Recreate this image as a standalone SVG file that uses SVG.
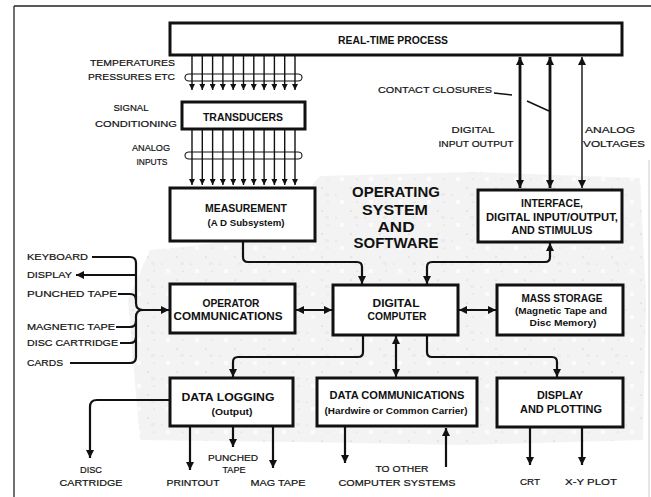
<svg xmlns="http://www.w3.org/2000/svg" width="651" height="497" viewBox="0 0 651 497">
<style>
.bx{fill:#fff;stroke:#111;stroke-width:3}
.b{font-family:"Liberation Sans",Arial,sans-serif;font-weight:bold;font-size:10px;text-anchor:middle;fill:#111}
.s{font-size:9px}
.big{font-size:14px}
.l{font-family:"Liberation Sans",Arial,sans-serif;font-size:9.5px;fill:#111;stroke:#111;stroke-width:0.2}
.m{text-anchor:middle}
.e{text-anchor:end}
.c{fill:none;stroke:#111;stroke-width:2.2}
.t{fill:none;stroke:#111;stroke-width:1.4}
.k{fill:none;stroke:#111;stroke-width:2.8}
</style>
<defs>
<marker id="a" viewBox="0 0 10 10" refX="10" refY="5" markerWidth="8" markerHeight="8" markerUnits="userSpaceOnUse" orient="auto-start-reverse"><path d="M0,0 L10,5 L0,10 z" fill="#111"/></marker>
<marker id="sm" viewBox="0 0 10 10" refX="10" refY="5" markerWidth="7" markerHeight="6" markerUnits="userSpaceOnUse" orient="auto"><path d="M0,0 L10,5 L0,10 z" fill="#111"/></marker>
<pattern id="sp" width="29" height="23" patternUnits="userSpaceOnUse">
<rect width="29" height="23" fill="#f3f3f3"/>
<circle cx="3" cy="4" r="0.6" fill="#b5b5b5"/><circle cx="17" cy="11" r="0.5" fill="#c4c4c4"/><circle cx="9" cy="18" r="0.6" fill="#cdcdcd"/><rect x="21" y="16" width="4" height="4" fill="#fbfbfb"/><rect x="6" y="9" width="4" height="3" fill="#ebebeb"/>
</pattern>
</defs>
<rect width="651" height="497" fill="#fff"/>
<path d="M150,250 C200,245 260,248 320,176 L475,172 L640,178 L646,300 L643,440 L460,445 L300,442 L140,440 L128,300 Z" fill="url(#sp)"/>
<g id="frame" fill="none">
<path d="M14,6 H651" stroke="#222" stroke-width="1.6"/>
<path d="M14,6 V497" stroke="#333" stroke-width="1.4"/>
<path d="M649,160 V497" stroke="#ccc" stroke-width="1"/>
</g>
<g id="connectors">
<g id="bundle1" class="t">
<path d="M192,56 V90" marker-end="url(#sm)"/><path d="M202.3,56 V90" marker-end="url(#sm)"/><path d="M212.6,56 V90" marker-end="url(#sm)"/><path d="M222.9,56 V90" marker-end="url(#sm)"/><path d="M233.2,56 V90" marker-end="url(#sm)"/><path d="M243.5,56 V90" marker-end="url(#sm)"/><path d="M253.8,56 V90" marker-end="url(#sm)"/><path d="M264.1,56 V90" marker-end="url(#sm)"/><path d="M274.4,56 V90" marker-end="url(#sm)"/><path d="M284.7,56 V90" marker-end="url(#sm)"/><path d="M295,56 V90" marker-end="url(#sm)"/>
<rect x="185" y="74" width="117" height="7" rx="4" ry="3.5" stroke-width="1.1"/>
</g>
<g id="bundle2" class="t">
<path d="M192,130 V185" marker-end="url(#sm)"/><path d="M202.3,130 V185" marker-end="url(#sm)"/><path d="M212.6,130 V185" marker-end="url(#sm)"/><path d="M222.9,130 V185" marker-end="url(#sm)"/><path d="M233.2,130 V185" marker-end="url(#sm)"/><path d="M243.5,130 V185" marker-end="url(#sm)"/><path d="M253.8,130 V185" marker-end="url(#sm)"/><path d="M264.1,130 V185" marker-end="url(#sm)"/><path d="M274.4,130 V185" marker-end="url(#sm)"/><path d="M284.7,130 V185" marker-end="url(#sm)"/><path d="M295,130 V185" marker-end="url(#sm)"/>
<rect x="185" y="152" width="117" height="7" rx="4" ry="3.5" stroke-width="1.1"/>
</g>
<path class="k" d="M520,57 V188" marker-start="url(#a)" marker-end="url(#a)"/>
<path class="k" d="M550,57 V188" marker-start="url(#a)" marker-end="url(#a)"/>
<path class="t" d="M582,57 V188" stroke-width="1.6" marker-start="url(#a)" marker-end="url(#a)"/>
<path class="t" d="M494,93 L512,95 M527,101 L549,111" stroke-width="1.5"/>
<path class="c" d="M243,241 V257 Q243,262 248,262 H357 Q362,262 362,267 V284" marker-end="url(#a)"/>
<path class="c" d="M550,243 V257 Q550,262 545,262 H432 Q427,262 427,267 V284" marker-start="url(#a)" marker-end="url(#a)"/>
<path class="c" d="M296,310 H332" marker-start="url(#a)" marker-end="url(#a)"/>
<path class="c" d="M459,310 H496" marker-start="url(#a)" marker-end="url(#a)"/>
<path class="c" d="M363,336 V352 Q363,357 358,357 H238 Q233,357 233,362 V377" marker-end="url(#a)"/>
<path class="c" d="M396,336 V377" marker-start="url(#a)" marker-end="url(#a)"/>
<path class="c" d="M427,336 V352 Q427,357 432,357 H552 Q557,357 557,362 V377" marker-end="url(#a)"/>
<path class="c" d="M92,257 H130 Q136,257 136,263 V303 Q136,310 143,310 H169" marker-end="url(#a)"/>
<path class="c" d="M136,275 H76" marker-end="url(#a)"/>
<path class="c" d="M118,294 H130 Q136,294 136,300"/>
<path class="c" d="M116,327 H130 Q136,327 136,321"/>
<path class="c" d="M120,343 H130 Q136,343 136,337"/>
<path class="c" d="M70,363 H130 Q136,363 136,357 V317 Q136,310 143,310"/>
<path class="c" d="M170,400 H97 Q90,400 90,407 V458" marker-end="url(#a)"/>
<path class="c" d="M190,427 V470" marker-end="url(#a)"/>
<path class="c" d="M233,427 V447" marker-end="url(#a)"/>
<path class="c" d="M273,427 V468" marker-end="url(#a)"/>
<path class="c" d="M345,427 V463" marker-end="url(#a)"/>
<path class="c" d="M446,467 V428" marker-end="url(#a)"/>
<path class="c" d="M530,428 V465" marker-end="url(#a)"/>
<path class="c" d="M582,428 V465" marker-end="url(#a)"/>
</g>
<g id="realtime"><rect class="bx" x="170" y="23" width="452" height="32"/><text class="b" x="393" y="44" textLength="110" lengthAdjust="spacingAndGlyphs">REAL-TIME PROCESS</text></g>
<g id="transducers"><rect class="bx" x="182" y="102" width="123" height="27"/><text class="b" x="243" y="121" textLength="80" lengthAdjust="spacingAndGlyphs">TRANSDUCERS</text></g>
<g id="measurement"><rect class="bx" x="170" y="188" width="145" height="53"/><text class="b" x="246" y="212" textLength="82" lengthAdjust="spacingAndGlyphs">MEASUREMENT</text><text class="b s" x="246" y="226" textLength="77" lengthAdjust="spacingAndGlyphs">(A D Subsystem)</text></g>
<g id="interface"><rect class="bx" x="478" y="190" width="144" height="52"/><text class="b" x="552" y="207" textLength="62" lengthAdjust="spacingAndGlyphs">INTERFACE,</text><text class="b" x="552" y="221" textLength="132" lengthAdjust="spacingAndGlyphs">DIGITAL INPUT/OUTPUT,</text><text class="b" x="552" y="234" textLength="81" lengthAdjust="spacingAndGlyphs">AND STIMULUS</text></g>
<g id="os"><text class="b big" x="396" y="197" textLength="88" lengthAdjust="spacingAndGlyphs">OPERATING</text><text class="b big" x="395" y="215" textLength="66" lengthAdjust="spacingAndGlyphs">SYSTEM</text><text class="b big" x="396" y="232" textLength="37" lengthAdjust="spacingAndGlyphs">AND</text><text class="b big" x="396" y="248" textLength="85" lengthAdjust="spacingAndGlyphs">SOFTWARE</text></g>
<g id="opcomm"><rect class="bx" x="170" y="284" width="125" height="49"/><text class="b" x="231" y="307" textLength="57" lengthAdjust="spacingAndGlyphs">OPERATOR</text><text class="b" x="228" y="320" textLength="109" lengthAdjust="spacingAndGlyphs">COMMUNICATIONS</text></g>
<g id="computer"><rect class="bx" x="333" y="285" width="125" height="50"/><text class="b" x="396" y="307" textLength="47" lengthAdjust="spacingAndGlyphs">DIGITAL</text><text class="b" x="397" y="320" textLength="59" lengthAdjust="spacingAndGlyphs">COMPUTER</text></g>
<g id="massstorage"><rect class="bx" x="497" y="285" width="126" height="50"/><text class="b" x="562" y="302" textLength="81" lengthAdjust="spacingAndGlyphs">MASS STORAGE</text><text class="b s" x="561" y="314" textLength="92" lengthAdjust="spacingAndGlyphs">(Magnetic Tape and</text><text class="b s" x="563" y="326" textLength="67" lengthAdjust="spacingAndGlyphs">Disc Memory)</text></g>
<g id="datalogging"><rect class="bx" x="170" y="378" width="123" height="48"/><text class="b" x="228" y="401" textLength="93" lengthAdjust="spacingAndGlyphs">DATA LOGGING</text><text class="b s" x="232" y="415" textLength="41" lengthAdjust="spacingAndGlyphs">(Output)</text></g>
<g id="datacomm"><rect class="bx" x="317" y="378" width="160" height="48"/><text class="b" x="397" y="399" textLength="135" lengthAdjust="spacingAndGlyphs">DATA COMMUNICATIONS</text><text class="b s" x="396" y="414" textLength="143" lengthAdjust="spacingAndGlyphs">(Hardwire or Common Carrier)</text></g>
<g id="display"><rect class="bx" x="497" y="378" width="126" height="49"/><text class="b" x="560" y="399" textLength="46" lengthAdjust="spacingAndGlyphs">DISPLAY</text><text class="b" x="561" y="413" textLength="82" lengthAdjust="spacingAndGlyphs">AND PLOTTING</text></g>
<g id="labels">
<text class="l e" x="175" y="66" textLength="85" lengthAdjust="spacingAndGlyphs">TEMPERATURES</text>
<text class="l e" x="175" y="80" textLength="87" lengthAdjust="spacingAndGlyphs">PRESSURES ETC</text>
<text class="l m" x="131" y="111" textLength="35" lengthAdjust="spacingAndGlyphs">SIGNAL</text>
<text class="l e" x="177" y="127" textLength="82" lengthAdjust="spacingAndGlyphs">CONDITIONING</text>
<text class="l m" x="151" y="151" textLength="38" lengthAdjust="spacingAndGlyphs">ANALOG</text>
<text class="l m" x="152" y="165" textLength="31" lengthAdjust="spacingAndGlyphs">INPUTS</text>
<text class="l" x="378" y="93" textLength="114" lengthAdjust="spacingAndGlyphs">CONTACT CLOSURES</text>
<text class="l m" x="473" y="133" textLength="43" lengthAdjust="spacingAndGlyphs">DIGITAL</text>
<text class="l m" x="476" y="147" textLength="75" lengthAdjust="spacingAndGlyphs">INPUT OUTPUT</text>
<text class="l" x="585" y="133" textLength="50" lengthAdjust="spacingAndGlyphs">ANALOG</text>
<text class="l" x="583" y="147" textLength="62" lengthAdjust="spacingAndGlyphs">VOLTAGES</text>
<text class="l" x="27" y="260" textLength="61" lengthAdjust="spacingAndGlyphs">KEYBOARD</text>
<text class="l" x="27" y="278" textLength="45" lengthAdjust="spacingAndGlyphs">DISPLAY</text>
<text class="l" x="27" y="297" textLength="90" lengthAdjust="spacingAndGlyphs">PUNCHED TAPE</text>
<text class="l" x="27" y="330" textLength="88" lengthAdjust="spacingAndGlyphs">MAGNETIC TAPE</text>
<text class="l" x="27" y="346" textLength="91" lengthAdjust="spacingAndGlyphs">DISC CARTRIDGE</text>
<text class="l" x="27" y="366" textLength="36" lengthAdjust="spacingAndGlyphs">CARDS</text>
<text class="l m" x="91" y="473" textLength="22" lengthAdjust="spacingAndGlyphs">DISC</text>
<text class="l m" x="91" y="486" textLength="63" lengthAdjust="spacingAndGlyphs">CARTRIDGE</text>
<text class="l m" x="233" y="461" textLength="50" lengthAdjust="spacingAndGlyphs">PUNCHED</text>
<text class="l m" x="234" y="473" textLength="23" lengthAdjust="spacingAndGlyphs">TAPE</text>
<text class="l m" x="193" y="486" textLength="53" lengthAdjust="spacingAndGlyphs">PRINTOUT</text>
<text class="l m" x="278" y="486" textLength="55" lengthAdjust="spacingAndGlyphs">MAG TAPE</text>
<text class="l m" x="402" y="472" textLength="53" lengthAdjust="spacingAndGlyphs">TO OTHER</text>
<text class="l m" x="397" y="486" textLength="117" lengthAdjust="spacingAndGlyphs">COMPUTER SYSTEMS</text>
<text class="l m" x="530" y="485" textLength="20" lengthAdjust="spacingAndGlyphs">CRT</text>
<text class="l m" x="591" y="485" textLength="52" lengthAdjust="spacingAndGlyphs">X-Y PLOT</text>
</g>
</svg>
